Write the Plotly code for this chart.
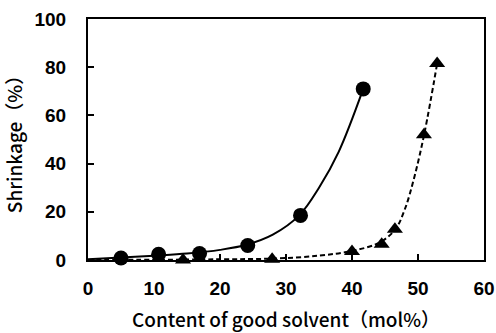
import plotly.graph_objects as go

# Measured data
circle_x = [5.0, 10.7, 16.9, 24.2, 32.2, 41.7]
circle_y = [0.8, 2.4, 2.7, 6.0, 18.5, 71.0]
tri_x = [14.4, 27.9, 40.0, 44.5, 46.5, 50.9, 52.9]
tri_y = [0.0, 0.3, 3.5, 6.5, 12.8, 52.0, 81.5]

# Fitted trend curves
fit1_x = [0, 5, 10, 15, 20, 24, 28, 32, 35, 38, 41.7]
fit1_y = [0.3, 1.0, 1.8, 2.7, 4.2, 6.3, 10.5, 18.5, 30, 45, 71]
fit2_x = [0, 10, 20, 28, 35, 40, 44, 46.5, 48, 49.5, 51, 52.9]
fit2_y = [0, 0.1, 0.3, 0.6, 1.8, 3.8, 7.0, 12.5, 21, 35, 53, 81.5]

x_ticks = [0, 10, 20, 30, 40, 50, 60]
y_ticks = [0, 20, 40, 60, 80, 100]

fig = go.Figure()
fig.add_trace(go.Scatter(x=fit1_x, y=fit1_y, mode="lines",
                         line=dict(color="black", width=2, shape="spline"),
                         showlegend=False, hoverinfo="skip"))
fig.add_trace(go.Scatter(x=fit2_x, y=fit2_y, mode="lines",
                         line=dict(color="black", width=2, dash="5px,3px", shape="spline"),
                         showlegend=False, hoverinfo="skip"))
fig.add_trace(go.Scatter(x=circle_x, y=circle_y, mode="markers",
                         marker=dict(symbol="circle", size=15, color="black"),
                         showlegend=False, cliponaxis=False))
fig.add_trace(go.Scatter(x=tri_x, y=tri_y, mode="markers",
                         marker=dict(symbol="triangle-up", size=14, color="black"),
                         showlegend=False, cliponaxis=False))

tickfont = dict(family="Liberation Sans, Arial", size=19, color="black", weight="bold")
titlefont = dict(family="Noto Sans CJK JP", size=19, color="black", weight=500)

fig.update_layout(
    width=496, height=333,
    margin=dict(l=88, r=12, t=19, b=73),
    paper_bgcolor="white", plot_bgcolor="white",
    xaxis=dict(range=[0, 60], tickvals=x_ticks, ticks="inside", ticklen=6, tickwidth=2,
               tickcolor="black", showline=True, linecolor="black", linewidth=2,
               mirror=True, showgrid=False, zeroline=False, tickfont=tickfont,
               ticklabelstandoff=10, automargin=False,
               title=dict(text="Content of good solvent（mol%）", font=titlefont, standoff=16)),
    yaxis=dict(range=[0, 100], tickvals=y_ticks, ticks="inside", ticklen=6, tickwidth=2,
               tickcolor="black", showline=True, linecolor="black", linewidth=2,
               mirror=True, showgrid=False, zeroline=False, tickfont=tickfont,
               ticklabelstandoff=16, automargin=False,
               title=dict(text="Shrinkage（%）", font=titlefont, standoff=10)),
)

fig.write_html("out.html")
